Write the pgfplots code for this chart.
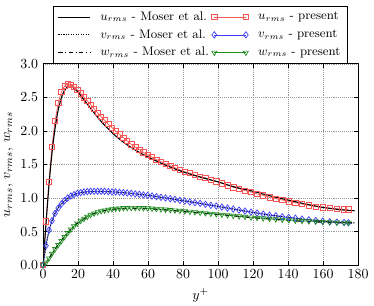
\documentclass[border=0pt]{standalone}
\usepackage{pgfplots}
\pgfplotsset{compat=1.18}
\definecolor{pred}{RGB}{250,85,85}
\definecolor{pblue}{RGB}{60,60,250}
\definecolor{pgreen}{RGB}{30,140,30}
\begin{document}
\begin{tikzpicture}
\begin{axis}[
  width=227pt, height=145pt, scale only axis,
  xmin=0, xmax=180, ymin=0, ymax=3,
  xtick={0,20,...,180}, ytick={0,0.5,...,3},
  yticklabel style={/pgf/number format/.cd, fixed, fixed zerofill, precision=1},
  grid=major, grid style={densely dotted, gray!80, line width=0.4pt},
  axis line style={line width=0.7pt},
  tick style={black, line width=0.5pt},
  major tick length=3pt,
  xlabel={$y^+$}, ylabel={$u_{rms}$, $v_{rms}$, $w_{rms}$},
  ylabel style={at={(axis description cs:-0.11,0.5)}, anchor=center},
  legend style={at={(0.5,1)}, anchor=south, legend columns=2, font=\small,
    draw=black, line width=0.5pt, row sep=1pt, inner xsep=3pt,
    /tikz/every odd column/.append style={column sep=5pt}},
  legend cell align=left,
  legend image code/.code={\draw[#1] plot coordinates {(0cm,0cm) (0.8cm,0cm)};},
]
\addlegendimage{black, line width=0.8pt}
\addlegendentry{$u_{rms}$ - Moser et al.}
\addlegendimage{pred, line width=0.5pt, mark=square, mark size=1.9pt, mark options={solid}}
\addlegendentry{$u_{rms}$ - present}
\addlegendimage{black, densely dotted, line width=0.8pt}
\addlegendentry{$v_{rms}$ - Moser et al.}
\addlegendimage{pblue, line width=0.5pt, mark=diamond, mark size=2.3pt, mark options={solid}}
\addlegendentry{$v_{rms}$ - present}
\addlegendimage{black, dashdotted, line width=0.8pt}
\addlegendentry{$w_{rms}$ - Moser et al.}
\addlegendimage{pgreen, line width=0.5pt, mark=triangle, mark size=2.1pt, mark options={solid, rotate=180}}
\addlegendentry{$w_{rms}$ - present}

% present u
\addplot[pred, line width=0.5pt, mark=square, mark size=1.9pt, forget plot] coordinates {
(0,0) (1.7,0.65) (3.4,1.24) (5.1,1.76) (6.9,2.15) (8.7,2.42) (10.5,2.58) (12.3,2.67) (14.1,2.70) (15.9,2.69)
(17.7,2.66) (19.6,2.61) (21.5,2.56) (23.4,2.50) (25.3,2.45) (27.2,2.39) (29.2,2.33) (31.2,2.27) (33.2,2.21) (35.2,2.16)
(37.3,2.10) (39.4,2.05) (41.5,2.00) (43.7,1.95) (45.9,1.90) (48.1,1.85) (50.4,1.80) (52.7,1.76) (55.0,1.72) (57.4,1.68)
(59.8,1.64) (62.3,1.61) (64.8,1.57) (67.4,1.54) (70.0,1.51) (72.7,1.48) (75.4,1.45) (78.2,1.42) (81.0,1.39) (83.9,1.37)
(86.8,1.34) (89.8,1.32) (92.8,1.30) (95.9,1.27) (99.0,1.25) (102.2,1.22) (105.4,1.19) (108.7,1.16) (112.0,1.14) (115.4,1.11)
(118.8,1.09) (122.3,1.06) (125.8,1.04) (129.4,1.01) (133.0,0.99) (136.7,0.97) (140.4,0.95) (144.2,0.93) (148.0,0.91) (151.9,0.89)
(155.8,0.87) (159.8,0.86) (163.8,0.85) (167.9,0.84) (172.0,0.83) (174.5,0.83)
};
% present v
\addplot[pblue, line width=0.5pt, mark=diamond, mark size=2.3pt, forget plot] coordinates {
(0,0) (1.7,0.29) (3.4,0.52) (5.1,0.66) (6.9,0.77) (8.7,0.85) (10.5,0.91) (12.3,0.96) (14.1,1.00) (15.9,1.03)
(17.7,1.05) (19.6,1.07) (21.5,1.08) (23.4,1.09) (25.3,1.095) (27.2,1.10) (29.2,1.10) (31.2,1.10) (33.2,1.10) (35.2,1.10)
(37.3,1.095) (39.4,1.09) (41.5,1.09) (43.7,1.085) (45.9,1.08) (48.1,1.075) (50.4,1.07) (52.7,1.06) (55.0,1.055) (57.4,1.045)
(59.8,1.04) (62.3,1.03) (64.8,1.02) (67.4,1.01) (70.0,1.00) (72.7,0.99) (75.4,0.98) (78.2,0.965) (81.0,0.955) (83.9,0.94)
(86.8,0.93) (89.8,0.92) (92.8,0.905) (95.9,0.89) (99.0,0.88) (102.2,0.865) (105.4,0.85) (108.7,0.835) (112.0,0.82) (115.4,0.805)
(118.8,0.79) (122.3,0.775) (125.8,0.76) (129.4,0.745) (133.0,0.735) (136.7,0.72) (140.4,0.71) (144.2,0.70) (148.0,0.685) (151.9,0.675)
(155.8,0.665) (159.8,0.655) (163.8,0.645) (167.9,0.64) (172.0,0.635) (174.5,0.63)
};
% present w
\addplot[pgreen, line width=0.5pt, mark=triangle, mark size=2.1pt, mark options={rotate=180}, forget plot] coordinates {
(0,0) (1.7,0.04) (3.4,0.10) (5.1,0.17) (6.9,0.24) (8.7,0.30) (10.5,0.36) (12.3,0.42) (14.1,0.48) (15.9,0.53)
(17.7,0.58) (19.6,0.62) (21.5,0.66) (23.4,0.69) (25.3,0.72) (27.2,0.75) (29.2,0.77) (31.2,0.79) (33.2,0.805) (35.2,0.815)
(37.3,0.825) (39.4,0.835) (41.5,0.84) (43.7,0.845) (45.9,0.85) (48.1,0.852) (50.4,0.853) (52.7,0.853) (55.0,0.852) (57.4,0.85)
(59.8,0.847) (62.3,0.843) (64.8,0.838) (67.4,0.833) (70.0,0.828) (72.7,0.822) (75.4,0.816) (78.2,0.81) (81.0,0.804) (83.9,0.797)
(86.8,0.79) (89.8,0.782) (92.8,0.775) (95.9,0.767) (99.0,0.76) (102.2,0.752) (105.4,0.744) (108.7,0.736) (112.0,0.728) (115.4,0.72)
(118.8,0.712) (122.3,0.705) (125.8,0.698) (129.4,0.691) (133.0,0.684) (136.7,0.677) (140.4,0.671) (144.2,0.665) (148.0,0.659) (151.9,0.654)
(155.8,0.649) (159.8,0.644) (163.8,0.64) (167.9,0.636) (172.0,0.633) (174.5,0.632)
};
% Moser u
\addplot[black, line width=0.8pt, smooth, forget plot] coordinates {
(0,0) (1,0.36) (2,0.72) (3,1.06) (4,1.37) (5,1.64) (6,1.87) (7,2.06) (8,2.22) (9,2.35) (10,2.45) (11,2.53) (12,2.59)
(13,2.63) (14,2.655) (15,2.665) (16,2.66) (17,2.65) (18,2.63) (20,2.58) (22,2.51) (25,2.41) (28,2.31) (31,2.21) (35,2.09)
(40,1.96) (45,1.85) (50,1.76) (55,1.68) (60,1.61) (70,1.49) (80,1.39) (90,1.31) (100,1.24) (110,1.16) (120,1.10) (130,1.03)
(140,0.97) (150,0.91) (160,0.86) (170,0.825) (178,0.81)
};
% Moser v
\addplot[black, densely dotted, line width=0.8pt, smooth, forget plot] coordinates {
(0,0) (2,0.33) (4,0.57) (6,0.72) (8,0.83) (10,0.90) (12,0.95) (15,1.01) (18,1.05) (21,1.075) (25,1.09) (30,1.095) (35,1.095)
(40,1.09) (45,1.08) (50,1.07) (60,1.04) (70,1.00) (80,0.96) (90,0.92) (100,0.875) (110,0.83) (120,0.785) (130,0.745)
(140,0.71) (150,0.68) (160,0.655) (170,0.64) (178,0.63)
};
% Moser w
\addplot[black, dashdotted, line width=0.8pt, smooth, forget plot] coordinates {
(0,0) (2,0.05) (4,0.12) (6,0.20) (8,0.28) (10,0.35) (12,0.42) (14,0.48) (16,0.54) (18,0.59) (20,0.63) (23,0.68) (26,0.73)
(30,0.775) (35,0.81) (40,0.83) (45,0.84) (50,0.845) (55,0.845) (60,0.84) (70,0.82) (80,0.80) (90,0.775) (100,0.755)
(110,0.73) (120,0.705) (130,0.685) (140,0.665) (150,0.65) (160,0.64) (170,0.63) (178,0.625)
};
\end{axis}
\pgfresetboundingbox
\path[use as bounding box] ([xshift=-31pt,yshift=-28.8pt]current axis.south west) rectangle ([xshift=11.5pt,yshift=46pt]current axis.north east);
\end{tikzpicture}
\end{document}
